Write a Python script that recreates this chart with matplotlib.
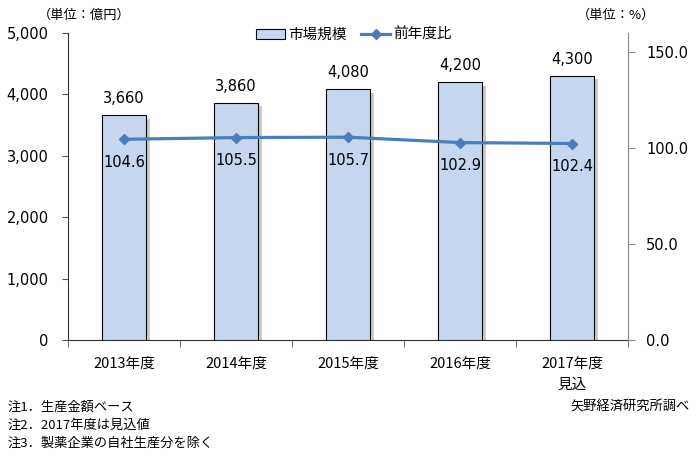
import matplotlib.pyplot as plt
import matplotlib.patheffects as pe
import matplotlib.transforms as mtransforms
from matplotlib.lines import Line2D
from matplotlib.patches import Patch

plt.rcParams['font.family'] = ['DejaVu Sans', 'Noto Sans CJK JP']

# Data
years = ['2013年度', '2014年度', '2015年度', '2016年度', '2017年度']
market = [3660, 3860, 4080, 4200, 4300]
yoy = [104.6, 105.5, 105.7, 102.9, 102.4]
left_ticks = [0, 1000, 2000, 3000, 4000, 5000]
right_ticks = [0, 50, 100, 150]
notes = ['注1．生産金額ベース', '注2．2017年度は見込値', '注3．製薬企業の自社生産分を除く']
source = '矢野経済研究所調べ'

bar_color = '#C6D6EE'
line_color = '#4A7EBB'
jp = ['Noto Sans CJK JP', 'DejaVu Sans']

fig = plt.figure(figsize=(6.97, 4.58), dpi=100)
ax = fig.add_axes([68 / 697, 118 / 458, 560 / 697, 307 / 458])
x = list(range(len(years)))

# Bars with shadow
bars = ax.bar(x, market, width=0.4, color=bar_color, edgecolor='black', linewidth=0.8, zorder=2)
for b in bars:
    b.set_path_effects([pe.SimplePatchShadow(offset=(2.5, -2.5), shadow_rgbFace='#999999', alpha=0.5), pe.Normal()])
for xi, v in zip(x, market):
    ax.text(xi, v + 270, f'{v:,}', ha='center', va='center', fontsize=10.5)

ax.set_xlim(-0.5, len(years) - 0.5)
ax.set_ylim(0, 5000)
ax.set_yticks(left_ticks)
ax.set_yticklabels([f'{t:,}' for t in left_ticks], fontsize=10.5)
ax.set_xticks(x)
ax.set_xticklabels(years, fontsize=10.5, family=jp)
ax.tick_params(axis='x', length=0, pad=12)
ax.set_xticks([i - 0.5 for i in range(len(years) + 1)], minor=True)
ax.tick_params(axis='x', which='minor', length=5, direction='out', color='#555555')
ax.tick_params(axis='y', length=4, direction='out', color='#555555', pad=10)
ax.spines['top'].set_visible(False)
ax.spines['right'].set_visible(False)
ax.spines['left'].set_color('#333333')
ax.spines['bottom'].set_color('#333333')

# second line of the 2017 label
trans = mtransforms.blended_transform_factory(ax.transData, ax.transAxes)
ax.text(4, -45 / 307, '見込', transform=trans, ha='center', va='center', fontsize=10.5, family=jp)

# Line on secondary axis
ax2 = ax.twinx()
ax2.plot(x, yoy, color=line_color, linewidth=2.3, marker='D', markersize=5.5, zorder=3)
for xi, v in zip(x, yoy):
    ax2.text(xi, v - 12, f'{v:.1f}', ha='center', va='center', fontsize=10.5)
ax2.set_ylim(0, 160)
ax2.set_yticks(right_ticks)
ax2.set_yticklabels([f'{t:.1f}' for t in right_ticks], fontsize=10.5)
ax2.tick_params(axis='y', length=5, direction='out', color='#888888', pad=8)
ax2.spines['top'].set_visible(False)
ax2.spines['left'].set_visible(False)
ax2.spines['bottom'].set_visible(False)
ax2.spines['right'].set_color('#888888')

# Legend
handles = [Patch(facecolor=bar_color, edgecolor='black', linewidth=0.8),
           Line2D([], [], color=line_color, linewidth=2.3, marker='D', markersize=5)]
fig.legend(handles, ['市場規模', '前年度比'], loc='center', bbox_to_anchor=(354 / 697, 1 - 35 / 458),
           ncol=2, frameon=False, prop={'family': jp, 'size': 10.5},
           handlelength=2.0, handletextpad=0.2, columnspacing=1.0)

# Unit labels and notes
fig.text(38 / 697, 1 - 15 / 458, '（単位：億円）', ha='left', va='center', fontsize=9.5, family=jp)
fig.text(655 / 697, 1 - 15 / 458, '（単位：%）', ha='right', va='center', fontsize=9.5, family=jp)
for i, n in enumerate(notes):
    fig.text(8 / 697, 1 - (407 + 18 * i) / 458, n, ha='left', va='center', fontsize=9.5, family=jp)
fig.text(690 / 697, 1 - 407 / 458, source, ha='right', va='center', fontsize=9.5, family=jp)

fig.savefig('out.png', dpi=100)
